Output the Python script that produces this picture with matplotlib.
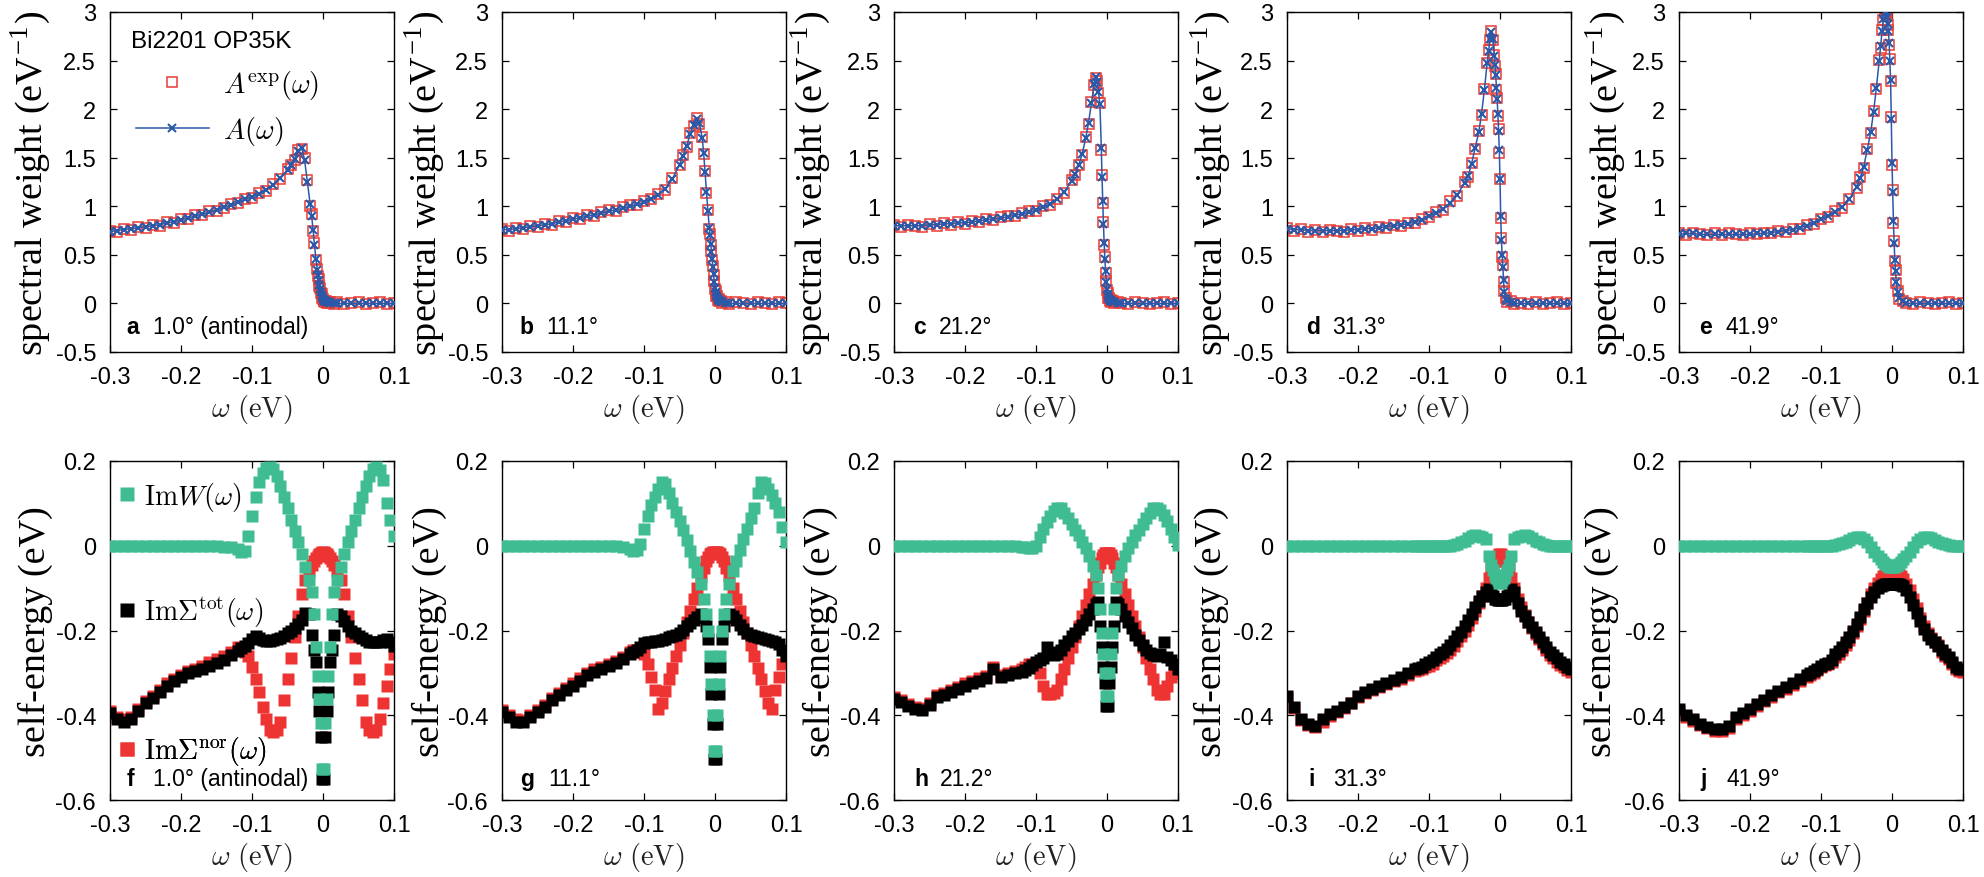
import matplotlib
matplotlib.use("Agg")
import matplotlib.pyplot as plt

# ---------------- data: top row (spectral weight) ----------------
omega_top = [-0.30, -0.29, -0.28, -0.27, -0.26, -0.25, -0.24, -0.23, -0.22, -0.21,
             -0.20, -0.19, -0.18, -0.17, -0.16, -0.15, -0.14, -0.13, -0.12, -0.11,
             -0.10, -0.09, -0.08, -0.07, -0.06, -0.05,
             -0.045, -0.040, -0.035, -0.030, -0.026, -0.022, -0.018, -0.016, -0.014, -0.012, -0.010,
             -0.008, -0.007, -0.006, -0.005, -0.004, -0.003, -0.002, -0.001, 0.000, 0.001, 0.002, 0.003, 0.004, 0.005, 0.006,
             0.008, 0.010, 0.015,
             0.02, 0.03, 0.04, 0.05, 0.06, 0.07, 0.08, 0.09, 0.10]

a_fit = [0.74, 0.75, 0.76, 0.77, 0.78, 0.79, 0.80, 0.81, 0.83, 0.84,
         0.86, 0.88, 0.90, 0.92, 0.94, 0.96, 0.99, 1.01, 1.04, 1.07,
         1.10, 1.13, 1.17, 1.22, 1.29, 1.37,
         1.42, 1.49, 1.57, 1.60, 1.48, 1.25, 1.02, 0.90, 0.76, 0.60, 0.46,
         0.34, 0.29, 0.24, 0.19, 0.15, 0.12, 0.09, 0.07, 0.05, 0.04, 0.03, 0.02, 0.02, 0.01, 0.01,
         0.01, 0.00, 0.00,
         0.00, 0.00, 0.00, 0.00, 0.00, 0.00, 0.00, 0.00, 0.00]
a_exp = [0.75, 0.74, 0.77, 0.76, 0.79, 0.78, 0.81, 0.80, 0.84, 0.83,
         0.87, 0.87, 0.91, 0.91, 0.95, 0.95, 0.98, 1.02, 1.03, 1.08,
         1.09, 1.14, 1.16, 1.23, 1.28, 1.38,
         1.43, 1.48, 1.58, 1.59, 1.50, 1.27, 1.00, 0.92, 0.75, 0.62, 0.45,
         0.35, 0.28, 0.25, 0.18, 0.16, 0.11, 0.10, 0.06, 0.05, 0.03, 0.03, 0.01, 0.02, 0.00, 0.01,
         0.00, 0.01, -0.01,
         0.01, -0.01, 0.00, 0.01, -0.01, 0.00, 0.01, -0.01, 0.00]

b_fit = [0.76, 0.76, 0.77, 0.78, 0.79, 0.80, 0.81, 0.82, 0.84, 0.85,
         0.87, 0.88, 0.90, 0.91, 0.93, 0.95, 0.96, 0.98, 1.00, 1.02,
         1.04, 1.08, 1.12, 1.18, 1.28, 1.43,
         1.52, 1.62, 1.74, 1.84, 1.90, 1.86, 1.70, 1.55, 1.35, 1.15, 0.95,
         0.78, 0.70, 0.61, 0.53, 0.46, 0.38, 0.30, 0.22, 0.16, 0.12, 0.09, 0.07, 0.05, 0.04, 0.03,
         0.02, 0.01, 0.00,
         0.00, 0.00, 0.00, 0.00, 0.00, 0.00, 0.00, 0.00, 0.00]
b_exp = [0.77, 0.75, 0.78, 0.77, 0.80, 0.79, 0.82, 0.81, 0.85, 0.84,
         0.88, 0.87, 0.91, 0.90, 0.94, 0.96, 0.95, 0.99, 1.01, 1.01,
         1.05, 1.07, 1.13, 1.17, 1.29, 1.42,
         1.53, 1.61, 1.75, 1.83, 1.91, 1.85, 1.71, 1.54, 1.36, 1.14, 0.96,
         0.77, 0.71, 0.60, 0.54, 0.45, 0.39, 0.29, 0.23, 0.15, 0.13, 0.08, 0.08, 0.04, 0.05, 0.02,
         0.03, 0.00, 0.01,
         -0.01, 0.01, 0.00, -0.01, 0.01, 0.00, -0.01, 0.01, 0.00]

c_fit = [0.80, 0.80, 0.80, 0.80, 0.80, 0.81, 0.81, 0.82, 0.82, 0.83,
         0.83, 0.84, 0.85, 0.86, 0.87, 0.88, 0.89, 0.91, 0.92, 0.94,
         0.96, 0.99, 1.02, 1.07, 1.15, 1.26,
         1.33, 1.42, 1.54, 1.70, 1.86, 2.06, 2.26, 2.33, 2.28, 2.18, 2.05,
         1.60, 1.30, 1.05, 0.82, 0.62, 0.46, 0.33, 0.22, 0.15, 0.10, 0.07, 0.05, 0.04, 0.03, 0.02,
         0.01, 0.01, 0.00,
         0.00, 0.00, 0.00, 0.00, 0.00, 0.00, 0.00, 0.00, 0.00]
c_exp = [0.81, 0.79, 0.81, 0.80, 0.79, 0.82, 0.80, 0.83, 0.81, 0.84,
         0.82, 0.85, 0.84, 0.87, 0.86, 0.89, 0.90, 0.90, 0.93, 0.95,
         0.95, 1.00, 1.01, 1.08, 1.14, 1.27,
         1.32, 1.43, 1.53, 1.71, 1.85, 2.07, 2.25, 2.32, 2.29, 2.17, 2.06,
         1.58, 1.32, 1.03, 0.84, 0.60, 0.48, 0.31, 0.23, 0.14, 0.11, 0.06, 0.06, 0.03, 0.04, 0.01,
         0.02, 0.00, 0.01,
         0.00, -0.01, 0.01, 0.00, -0.01, 0.00, 0.01, -0.01, 0.00]

d_fit = [0.77, 0.76, 0.76, 0.75, 0.75, 0.75, 0.75, 0.75, 0.75, 0.76,
         0.76, 0.77, 0.77, 0.78, 0.79, 0.80, 0.81, 0.82, 0.84, 0.86,
         0.90, 0.93, 0.97, 1.03, 1.12, 1.24,
         1.31, 1.44, 1.60, 1.76, 1.95, 2.20, 2.48, 2.60, 2.72, 2.79, 2.72,
         2.55, 2.45, 2.35, 2.22, 2.10, 1.95, 1.78, 1.58, 1.28, 0.90, 0.65, 0.50, 0.38, 0.24, 0.12,
         0.05, 0.02, 0.01,
         0.00, 0.00, 0.00, 0.00, 0.00, 0.00, 0.00, 0.00, 0.00]
d_exp = [0.78, 0.75, 0.77, 0.74, 0.76, 0.74, 0.76, 0.75, 0.74, 0.77,
         0.75, 0.78, 0.76, 0.79, 0.78, 0.81, 0.80, 0.83, 0.83, 0.87,
         0.89, 0.94, 0.96, 1.05, 1.11, 1.25,
         1.30, 1.45, 1.59, 1.77, 1.94, 2.21, 2.47, 2.61, 2.71, 2.80, 2.71,
         2.56, 2.44, 2.36, 2.20, 2.11, 1.93, 1.80, 1.55, 1.28, 0.88, 0.67, 0.48, 0.40, 0.22, 0.13,
         0.06, 0.01, 0.02,
         -0.01, 0.00, -0.01, 0.01, -0.01, 0.00, 0.01, -0.01, 0.00]

e_fit = [0.71, 0.72, 0.72, 0.71, 0.71, 0.71, 0.71, 0.71, 0.71, 0.71,
         0.71, 0.72, 0.72, 0.73, 0.74, 0.75, 0.76, 0.78, 0.80, 0.83,
         0.87, 0.90, 0.94, 0.99, 1.07, 1.20,
         1.29, 1.40, 1.58, 1.76, 1.97, 2.22, 2.50, 2.65, 2.80, 2.93, 2.99,
         3.00, 2.95, 2.88, 2.80, 2.68, 2.50, 2.30, 1.90, 1.45, 1.15, 0.85, 0.62, 0.45, 0.33, 0.22,
         0.12, 0.06, 0.02,
         0.00, 0.00, 0.00, 0.00, 0.00, 0.00, 0.00, 0.00, 0.00]
e_exp = [0.72, 0.70, 0.73, 0.71, 0.70, 0.72, 0.70, 0.72, 0.71, 0.70,
         0.72, 0.71, 0.73, 0.72, 0.75, 0.74, 0.77, 0.77, 0.81, 0.82,
         0.87, 0.89, 0.95, 0.98, 1.08, 1.19,
         1.30, 1.39, 1.59, 1.75, 1.98, 2.21, 2.51, 2.63, 2.81, 2.92, 2.99,
         2.99, 2.96, 2.87, 2.81, 2.66, 2.52, 2.29, 1.92, 1.43, 1.17, 0.83, 0.64, 0.44, 0.34, 0.21,
         0.13, 0.05, 0.02,
         0.00, -0.01, 0.01, 0.00, -0.01, 0.00, 0.01, -0.01, 0.00]

# ---------------- data: bottom row (self-energy) ----------------
omega_bot = [-0.30, -0.29, -0.28, -0.27, -0.26, -0.25, -0.24, -0.23, -0.22, -0.21,
             -0.20, -0.19, -0.18, -0.17, -0.16, -0.15, -0.14, -0.13,
             -0.120, -0.115, -0.110, -0.105, -0.100, -0.095, -0.090, -0.085, -0.080, -0.075,
             -0.070, -0.065, -0.060, -0.055, -0.050, -0.045, -0.040, -0.035, -0.030, -0.025, -0.020,
             -0.016, -0.012, -0.010, -0.007, -0.005, -0.003, -0.001,
             0.001, 0.003, 0.005, 0.007, 0.010, 0.012, 0.016,
             0.020, 0.025, 0.030, 0.035, 0.040, 0.045, 0.050, 0.055, 0.060, 0.065,
             0.070, 0.075, 0.080, 0.085, 0.090, 0.095, 0.100]

f_W = [0, 0, 0, 0, 0, 0, 0, 0, 0, 0,
       0, 0, 0, 0, 0, 0, -0.002, -0.004,
       -0.008, -0.015, -0.012, 0.022, 0.07, 0.115, 0.15, 0.172, 0.184, 0.186,
       0.18, 0.165, 0.14, 0.115, 0.088, 0.06, 0.035, 0.008, -0.02, -0.05, -0.08,
       -0.11, -0.16, -0.24, -0.307, -0.362, -0.419, -0.528,
       -0.528, -0.419, -0.362, -0.307, -0.24, -0.16, -0.11,
       -0.08, -0.05, -0.02, 0.008, 0.035, 0.06, 0.088, 0.115, 0.14, 0.165,
       0.18, 0.186, 0.178, 0.155, 0.10, 0.06, 0.024]
f_tot = [-0.395, -0.41, -0.417, -0.41, -0.39, -0.372, -0.36, -0.345, -0.33, -0.32,
         -0.31, -0.30, -0.295, -0.29, -0.283, -0.277, -0.27, -0.258,
         -0.248, -0.242, -0.237, -0.23, -0.22, -0.214, -0.218, -0.222, -0.225, -0.224,
         -0.222, -0.22, -0.217, -0.213, -0.207, -0.20, -0.193, -0.185, -0.175, -0.158, -0.16,
         -0.21, -0.245, -0.275, -0.346, -0.389, -0.452, -0.55,
         -0.55, -0.452, -0.389, -0.346, -0.275, -0.245, -0.21,
         -0.16, -0.165, -0.178, -0.19, -0.20, -0.207, -0.212, -0.217, -0.222, -0.226,
         -0.228, -0.228, -0.226, -0.222, -0.22, -0.228, -0.236]
f_nor = [-0.39, -0.405, -0.41, -0.405, -0.385, -0.367, -0.355, -0.34, -0.325, -0.315,
         -0.305, -0.295, -0.29, -0.283, -0.275, -0.268, -0.26, -0.25,
         -0.24, -0.245, -0.25, -0.26, -0.285, -0.315, -0.345, -0.38, -0.41, -0.435,
         -0.44, -0.435, -0.415, -0.365, -0.315, -0.265, -0.215, -0.165, -0.115, -0.08, -0.06,
         -0.045, -0.035, -0.03, -0.024, -0.02, -0.017, -0.015,
         -0.015, -0.017, -0.02, -0.024, -0.03, -0.035, -0.045,
         -0.06, -0.08, -0.115, -0.165, -0.215, -0.265, -0.315, -0.365, -0.415, -0.435,
         -0.44, -0.435, -0.41, -0.37, -0.33, -0.29, -0.255]

g_W = [0, 0, 0, 0, 0, 0, 0, 0, 0, 0,
       0, 0, 0, 0, 0, 0, 0, -0.003,
       -0.008, -0.012, -0.01, 0.005, 0.04, 0.07, 0.095, 0.115, 0.135, 0.15,
       0.145, 0.125, 0.10, 0.08, 0.058, 0.036, 0.014, -0.012, -0.038, -0.062, -0.09,
       -0.125, -0.16, -0.20, -0.259, -0.326, -0.40, -0.484,
       -0.484, -0.40, -0.326, -0.259, -0.20, -0.16, -0.125,
       -0.09, -0.06, -0.035, -0.01, 0.015, 0.04, 0.065, 0.09, 0.125, 0.15,
       0.148, 0.135, 0.12, 0.10, 0.08, 0.045, 0.008]
g_tot = [-0.393, -0.405, -0.415, -0.417, -0.405, -0.393, -0.38, -0.365, -0.352, -0.34,
         -0.33, -0.318, -0.305, -0.297, -0.29, -0.283, -0.277, -0.268,
         -0.255, -0.25, -0.245, -0.238, -0.23, -0.228, -0.226, -0.225, -0.224, -0.222,
         -0.22, -0.216, -0.213, -0.21, -0.205, -0.198, -0.19, -0.182, -0.175, -0.168, -0.162,
         -0.168, -0.19, -0.22, -0.287, -0.35, -0.42, -0.503,
         -0.503, -0.42, -0.35, -0.287, -0.22, -0.19, -0.168,
         -0.162, -0.165, -0.175, -0.186, -0.197, -0.205, -0.21, -0.213, -0.216, -0.218,
         -0.22, -0.222, -0.225, -0.228, -0.232, -0.245, -0.26]
g_nor = [-0.388, -0.40, -0.41, -0.412, -0.40, -0.388, -0.375, -0.36, -0.347, -0.335,
         -0.325, -0.313, -0.30, -0.292, -0.285, -0.278, -0.272, -0.263,
         -0.25, -0.245, -0.245, -0.25, -0.255, -0.28, -0.31, -0.34, -0.385, -0.37,
         -0.342, -0.315, -0.288, -0.26, -0.234, -0.207, -0.18, -0.153, -0.126, -0.10, -0.072,
         -0.052, -0.035, -0.027, -0.02, -0.017, -0.015, -0.014,
         -0.014, -0.015, -0.017, -0.02, -0.027, -0.035, -0.052,
         -0.072, -0.10, -0.126, -0.153, -0.18, -0.207, -0.234, -0.26, -0.288, -0.315,
         -0.342, -0.37, -0.385, -0.34, -0.31, -0.28, -0.26]

h_W = [0, 0, 0, 0, 0, 0, 0, 0, 0, 0,
       0, 0, 0, 0, 0, 0, 0, 0,
       -0.002, -0.004, -0.006, -0.006, 0.0, 0.02, 0.04, 0.055, 0.07, 0.082,
       0.09, 0.088, 0.078, 0.066, 0.052, 0.037, 0.025, 0.01, -0.005, -0.025, -0.047,
       -0.07, -0.10, -0.15, -0.205, -0.255, -0.30, -0.355,
       -0.355, -0.30, -0.255, -0.205, -0.15, -0.10, -0.07,
       -0.047, -0.025, -0.005, 0.01, 0.025, 0.037, 0.052, 0.066, 0.078, 0.088,
       0.09, 0.085, 0.072, 0.058, 0.04, 0.02, 0.002]
h_tot = [-0.362, -0.368, -0.378, -0.386, -0.388, -0.375, -0.357, -0.352, -0.345, -0.338,
         -0.33, -0.323, -0.318, -0.312, -0.29, -0.31, -0.305, -0.30,
         -0.298, -0.293, -0.288, -0.282, -0.275, -0.27, -0.265, -0.24, -0.25, -0.258,
         -0.255, -0.245, -0.235, -0.225, -0.212, -0.205, -0.197, -0.188, -0.175, -0.162, -0.15,
         -0.138, -0.133, -0.19, -0.24, -0.285, -0.325, -0.378,
         -0.378, -0.325, -0.285, -0.24, -0.19, -0.133, -0.138,
         -0.15, -0.165, -0.18, -0.195, -0.21, -0.222, -0.235, -0.245, -0.252, -0.257,
         -0.26, -0.255, -0.228, -0.262, -0.27, -0.28, -0.29]
h_nor = [-0.357, -0.363, -0.373, -0.381, -0.383, -0.37, -0.352, -0.347, -0.34, -0.333,
         -0.325, -0.318, -0.313, -0.307, -0.285, -0.305, -0.30, -0.295,
         -0.29, -0.285, -0.28, -0.278, -0.285, -0.30, -0.33, -0.35, -0.35, -0.348,
         -0.34, -0.315, -0.29, -0.265, -0.24, -0.215, -0.19, -0.165, -0.14, -0.115, -0.09,
         -0.07, -0.05, -0.04, -0.03, -0.022, -0.018, -0.016,
         -0.016, -0.018, -0.022, -0.03, -0.04, -0.05, -0.07,
         -0.09, -0.115, -0.14, -0.165, -0.19, -0.215, -0.24, -0.265, -0.29, -0.315,
         -0.34, -0.35, -0.35, -0.33, -0.31, -0.30, -0.30]

i_W = [0, 0, 0, 0, 0, 0, 0, 0, 0, 0,
       0, 0, 0, 0, 0, 0, 0, 0,
       0, 0, 0, 0, 0, 0, 0, 0, 0, 0,
       0.0, 0.002, 0.004, 0.008, 0.012, 0.018, 0.023, 0.025, 0.024, 0.021, 0.016,
       -0.025, -0.045, -0.058, -0.068, -0.076, -0.082, -0.087,
       -0.087, -0.082, -0.076, -0.068, -0.058, -0.045, -0.025,
       0.016, 0.021, 0.024, 0.025, 0.023, 0.018, 0.012, 0.008, 0.004, 0.002,
       0, 0, 0, 0, 0, 0, 0]
i_tot = [-0.354, -0.38, -0.41, -0.42, -0.425, -0.41, -0.397, -0.39, -0.38, -0.37,
         -0.355, -0.345, -0.337, -0.33, -0.323, -0.316, -0.31, -0.30,
         -0.29, -0.288, -0.285, -0.28, -0.275, -0.27, -0.262, -0.255, -0.25, -0.244,
         -0.235, -0.225, -0.214, -0.203, -0.19, -0.175, -0.16, -0.145, -0.13, -0.118, -0.108,
         -0.102, -0.11, -0.118, -0.125, -0.126, -0.127, -0.127,
         -0.127, -0.127, -0.126, -0.125, -0.118, -0.11, -0.102,
         -0.11, -0.135, -0.153, -0.166, -0.18, -0.192, -0.203, -0.215, -0.226, -0.238,
         -0.25, -0.258, -0.266, -0.275, -0.28, -0.287, -0.291]
i_nor = [-0.356, -0.382, -0.412, -0.422, -0.427, -0.417, -0.402, -0.392, -0.382, -0.372,
         -0.358, -0.348, -0.34, -0.333, -0.326, -0.32, -0.314, -0.305,
         -0.296, -0.294, -0.291, -0.287, -0.283, -0.278, -0.27, -0.264, -0.26, -0.254,
         -0.246, -0.236, -0.225, -0.214, -0.20, -0.186, -0.17, -0.153, -0.136, -0.118, -0.10,
         -0.075, -0.05, -0.04, -0.035, -0.03, -0.025, -0.02,
         -0.02, -0.025, -0.03, -0.035, -0.04, -0.05, -0.075,
         -0.10, -0.125, -0.145, -0.163, -0.18, -0.195, -0.208, -0.22, -0.232, -0.245,
         -0.257, -0.266, -0.274, -0.282, -0.287, -0.293, -0.297]

j_W = [0, 0, 0, 0, 0, 0, 0, 0, 0, 0,
       0, 0, 0, 0, 0, 0, 0, 0,
       0, 0, 0, 0, 0, 0, 0, 0, 0.002, 0.004,
       0.007, 0.01, 0.014, 0.018, 0.02, 0.02, 0.016, 0.008, -0.003, -0.014, -0.024,
       -0.032, -0.039, -0.042, -0.046, -0.048, -0.05, -0.05,
       -0.05, -0.05, -0.048, -0.046, -0.042, -0.039, -0.032,
       -0.024, -0.014, -0.003, 0.008, 0.016, 0.02, 0.02, 0.018, 0.014, 0.01,
       0.007, 0.004, 0.002, 0.0, 0.0, 0.0, 0.0]
j_tot = [-0.386, -0.40, -0.41, -0.42, -0.427, -0.432, -0.433, -0.425, -0.405, -0.395,
         -0.385, -0.373, -0.363, -0.352, -0.342, -0.333, -0.324, -0.314,
         -0.305, -0.30, -0.296, -0.29, -0.283, -0.278, -0.276, -0.27, -0.255, -0.248,
         -0.24, -0.228, -0.215, -0.20, -0.185, -0.168, -0.15, -0.135, -0.12, -0.108, -0.10,
         -0.094, -0.092, -0.091, -0.09, -0.09, -0.09, -0.09,
         -0.09, -0.09, -0.09, -0.09, -0.091, -0.092, -0.094,
         -0.105, -0.122, -0.14, -0.158, -0.178, -0.197, -0.21, -0.22, -0.228, -0.236,
         -0.245, -0.255, -0.263, -0.275, -0.285, -0.29, -0.291]
j_nor = [-0.39, -0.404, -0.414, -0.424, -0.431, -0.436, -0.437, -0.429, -0.409, -0.399,
         -0.389, -0.377, -0.367, -0.356, -0.346, -0.337, -0.328, -0.318,
         -0.309, -0.304, -0.30, -0.294, -0.287, -0.282, -0.28, -0.275, -0.262, -0.255,
         -0.247, -0.235, -0.222, -0.207, -0.19, -0.172, -0.153, -0.135, -0.115, -0.10, -0.088,
         -0.078, -0.072, -0.07, -0.068, -0.068, -0.068, -0.068,
         -0.068, -0.068, -0.068, -0.068, -0.07, -0.072, -0.078,
         -0.09, -0.105, -0.125, -0.147, -0.17, -0.19, -0.205, -0.217, -0.226, -0.235,
         -0.25, -0.26, -0.268, -0.28, -0.29, -0.296, -0.298]

# ---------------- labels ----------------
top_letters = ['a', 'b', 'c', 'd', 'e']
bot_letters = ['f', 'g', 'h', 'i', 'j']
angles_top = ['1.0° (antinodal)', '11.1°', '21.2°', '31.3°', '41.9°']
angles_bot = ['1.0° (antinodal)', '11.1°', '21.2°', '31.3°', '41.9°']
xtick_vals = [-0.3, -0.2, -0.1, 0.0, 0.1]
xtick_labels = ['-0.3', '-0.2', '-0.1', '0', '0.1']
top_ytick_vals = [-0.5, 0, 0.5, 1, 1.5, 2, 2.5, 3]
top_ytick_labels = ['-0.5', '0', '0.5', '1', '1.5', '2', '2.5', '3']
bot_ytick_vals = [-0.6, -0.4, -0.2, 0, 0.2]
bot_ytick_labels = ['-0.6', '-0.4', '-0.2', '0', '0.2']

top_exp = [a_exp, b_exp, c_exp, d_exp, e_exp]
top_fit = [a_fit, b_fit, c_fit, d_fit, e_fit]
bot_W = [f_W, g_W, h_W, i_W, j_W]
bot_tot = [f_tot, g_tot, h_tot, i_tot, j_tot]
bot_nor = [f_nor, g_nor, h_nor, i_nor, j_nor]

# ---------------- style ----------------
plt.rcParams['mathtext.fontset'] = 'cm'
plt.rcParams['font.family'] = ['Liberation Sans', 'DejaVu Sans']

RED = '#ec3b33'
BLUE = '#2a59a9'
GREEN = '#3fbc92'
BRED = '#ee3432'

FW, FH = 1984, 878
fig = plt.figure(figsize=(FW / 100, FH / 100), dpi=100)
col_left = [110, 502, 894, 1287, 1679]
ax_w = 284
top_y0, top_y1 = 13, 353
bot_y0, bot_y1 = 462, 801
ylabel_x_top = [-0.20, -0.194, -0.214, -0.19, -0.18]
ylabel_x_bot = [-0.20, -0.194, -0.197, -0.205, -0.21]
letter_x_top = [0.056, 0.063, 0.067, 0.067, 0.07]
angle_x_top = [0.15, 0.155, 0.158, 0.158, 0.162]
letter_x_bot = [0.06, 0.063, 0.07, 0.074, 0.074]
angle_x_bot = [0.15, 0.162, 0.162, 0.162, 0.169]


def style_axis(ax, yvals, ylabs):
    ax.set_xlim(-0.3, 0.1)
    ax.set_xticks(xtick_vals)
    ax.set_xticklabels(xtick_labels)
    ax.set_yticks(yvals)
    ax.set_yticklabels(ylabs)
    ax.tick_params(direction='in', top=True, right=True, length=5, width=0.9,
                   labelsize=17, pad=10)
    for s in ax.spines.values():
        s.set_linewidth(1.0)
    ax.set_xlabel(r'$\omega\ \mathrm{(eV)}$', fontsize=20.5, color='#222222', labelpad=3)


MS_B = 8.6
for k in range(5):
    # top panel
    ax = fig.add_axes([col_left[k] / FW, 1 - top_y1 / FH, ax_w / FW, (top_y1 - top_y0) / FH])
    h_exp, = ax.plot(omega_top, top_exp[k], ls='none', marker='s', ms=6.6, mfc='none',
                     mec=RED, mew=1.1, zorder=2)
    h_fit, = ax.plot(omega_top, top_fit[k], color=BLUE, lw=1.1, marker='x', ms=6.3,
                     mew=1.5, zorder=3)
    ax.set_ylim(-0.5, 3)
    style_axis(ax, top_ytick_vals, top_ytick_labels)
    ax.set_ylabel('spectral weight (eV$^{\\mathregular{-1}}$)', family='Liberation Serif',
                  fontsize=27.5)
    ax.yaxis.set_label_coords(ylabel_x_top[k], 0.5)
    ax.text(letter_x_top[k], 0.055, top_letters[k], transform=ax.transAxes, fontsize=16.5,
            fontweight='bold', va='baseline')
    ax.text(angle_x_top[k], 0.055, angles_top[k], transform=ax.transAxes, fontsize=16.5,
            va='baseline')
    if k == 0:
        ax.text(0.073, 0.897, 'Bi2201 OP35K', transform=ax.transAxes, fontsize=17.5,
                va='baseline')
        ax.legend([h_exp, h_fit], [r'$A^{\mathrm{exp}}(\omega)$', r'$A(\omega)$'],
                  loc='upper left', bbox_to_anchor=(0.09, 0.835), frameon=False,
                  fontsize=20.5, handlelength=2.57, handletextpad=0.5, labelspacing=0.45,
                  borderpad=0, borderaxespad=0, numpoints=1)

    # bottom panel
    ax = fig.add_axes([col_left[k] / FW, 1 - bot_y1 / FH, ax_w / FW, (bot_y1 - bot_y0) / FH])
    hn, = ax.plot(omega_bot, bot_nor[k], ls='none', marker='s', ms=MS_B, color=BRED,
                  mec='none', zorder=2)
    ht, = ax.plot(omega_bot, bot_tot[k], ls='none', marker='s', ms=MS_B, color='black',
                  mec='none', zorder=3)
    hw, = ax.plot(omega_bot, bot_W[k], ls='none', marker='s', ms=MS_B, color=GREEN,
                  mec='none', zorder=4)
    ax.set_ylim(-0.6, 0.2)
    style_axis(ax, bot_ytick_vals, bot_ytick_labels)
    ax.set_ylabel('self-energy (eV)', family='Liberation Serif', fontsize=27.5)
    ax.yaxis.set_label_coords(ylabel_x_bot[k], 0.5)
    ax.text(letter_x_bot[k], 0.045, bot_letters[k], transform=ax.transAxes, fontsize=16.5,
            fontweight='bold', va='baseline')
    ax.text(angle_x_bot[k], 0.045, angles_bot[k], transform=ax.transAxes, fontsize=16.5,
            va='baseline')
    if k == 0:
        entries = [(hw, r'$\mathrm{Im}W(\omega)$', 0.895),
                   (ht, r'$\mathrm{Im}\Sigma^{\mathrm{tot}}(\omega)$', 0.555),
                   (hn, r'$\mathrm{Im}\Sigma^{\mathrm{nor}}(\omega)$', 0.145)]
        for hnd, lab, yy in entries:
            lg = ax.legend([hnd], [lab], loc='center left', bbox_to_anchor=(0.035, yy),
                           frameon=False, fontsize=20, handlelength=0.5, handletextpad=0.35,
                           borderpad=0, borderaxespad=0, markerscale=1.1, numpoints=1)
            ax.add_artist(lg)

fig.savefig('out.png', dpi=100)
